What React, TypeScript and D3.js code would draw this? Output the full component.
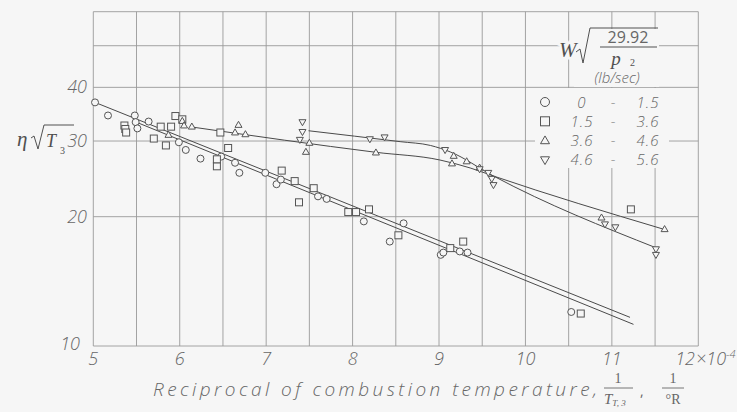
import React from "react";
import * as d3 from "d3";

// Efficiency parameter vs reciprocal combustion temperature, grouped by corrected airflow
const circlePts: [number, number][] = [
  [5.02, 36.9], [5.17, 34.4], [5.48, 34.4], [5.49, 33.2], [5.51, 32.1], [5.64, 33.3],
  [5.99, 29.8], [6.07, 28.6], [6.24, 27.3], [6.48, 27.6], [6.64, 26.7], [6.69, 25.3],
  [6.99, 25.3], [7.12, 23.8], [7.17, 24.4], [7.6, 22.3], [7.7, 22.0], [8.13, 19.5],
  [8.43, 17.5], [8.59, 19.3], [9.02, 16.3], [9.05, 16.5], [9.24, 16.6], [9.33, 16.5],
  [10.53, 12.0],
];
const squarePts: [number, number][] = [
  [5.36, 32.6], [5.37, 32.0], [5.38, 31.4], [5.7, 30.4], [5.78, 32.4], [5.84, 29.3],
  [5.9, 32.4], [5.95, 34.3], [6.03, 33.7], [6.43, 26.2], [6.43, 27.2], [6.47, 31.4],
  [6.56, 28.9], [7.18, 25.6], [7.33, 24.2], [7.38, 21.6], [7.55, 23.3], [7.95, 20.5],
  [8.04, 20.5], [8.19, 20.8], [8.53, 18.1], [9.13, 16.9], [9.28, 17.5], [10.64, 11.9],
  [11.22, 20.8],
];
const trianglePts: [number, number][] = [
  [5.87, 31.0], [6.03, 33.4], [6.05, 32.6], [6.14, 32.4], [6.64, 31.4], [6.68, 32.7],
  [6.76, 31.1], [7.46, 28.3], [7.5, 29.7], [8.27, 28.2], [9.15, 26.6], [9.17, 27.7],
  [9.32, 26.9], [9.47, 26.0], [10.88, 19.9], [11.61, 18.7],
];
const invTrianglePts: [number, number][] = [
  [7.39, 30.2], [7.42, 31.5], [7.42, 33.2], [8.2, 30.3], [8.37, 30.6], [9.07, 28.6],
  [9.47, 25.8], [9.57, 25.3], [9.61, 24.5], [9.63, 23.7], [10.92, 19.2], [11.04, 18.9],
  [11.51, 16.8], [11.51, 16.3],
];

// Faired curves through each group
const circleCurve: [number, number][] = [[5.02, 36.9], [11.21, 11.66]];
const squareCurve: [number, number][] = [[5.48, 33.3], [11.25, 11.23]];
const triangleCurve: [number, number][] = [
  [6.16, 32.3], [8.27, 28.24], [9.01, 27.1], [9.36, 25.97], [9.63, 24.87], [11.59, 18.72],
];
const invTriangleCurve: [number, number][] = [
  [7.49, 31.7], [8.55, 29.9], [8.9, 29.3], [9.13, 28.3], [9.63, 24.87], [11.52, 16.9],
];

const xTicks = [5, 6, 7, 8, 9, 10, 11];
const yTicks = [10, 20, 30, 40];
const yGrid = [10, 20, 30, 40, 50, 60];
const legendLow = ["0", "1.5", "3.6", "4.6"];
const legendHigh = ["1.5", "3.6", "4.6", "5.6"];

const BG = "#f6f6f6";
const INK = "#555";
const TXT = "#666";
const SANS = "'Open Sans', 'DejaVu Sans', sans-serif";
const SERIF = "'Liberation Serif', 'DejaVu Serif', serif";

type Kind = "circle" | "square" | "tri" | "inv";

function Marker({ kind, cx, cy, s }: { kind: Kind; cx: number; cy: number; s: number }) {
  const common = { fill: BG, stroke: INK, strokeWidth: 1 };
  if (kind === "circle") return <circle cx={cx} cy={cy} r={s / 2} {...common} />;
  if (kind === "square")
    return <rect x={cx - s / 2} y={cy - s / 2} width={s} height={s} {...common} />;
  const h = s * 0.866;
  if (kind === "tri")
    return (
      <path
        d={`M${cx},${cy - h * 0.6}L${cx + s / 2},${cy + h * 0.4}L${cx - s / 2},${cy + h * 0.4}Z`}
        {...common}
      />
    );
  return (
    <path
      d={`M${cx},${cy + h * 0.6}L${cx + s / 2},${cy - h * 0.4}L${cx - s / 2},${cy - h * 0.4}Z`}
      {...common}
    />
  );
}

export default function App() {
  const x = d3.scaleLinear().domain([5, 12]).range([93.3, 698.3]);
  const y = d3.scaleLog().domain([10, 60]).range([346, 11.7]);

  const straight = d3
    .line<[number, number]>()
    .x((d) => x(d[0]))
    .y((d) => y(d[1]));
  const smooth = d3
    .line<[number, number]>()
    .x((d) => x(d[0]))
    .y((d) => y(d[1]))
    .curve(d3.curveMonotoneX);

  const vGrid = d3.range(5, 12.01, 0.5);

  const groups: { kind: Kind; pts: [number, number][] }[] = [
    { kind: "circle", pts: circlePts },
    { kind: "square", pts: squarePts },
    { kind: "tri", pts: trianglePts },
    { kind: "inv", pts: invTrianglePts },
  ];
  const legendKinds: Kind[] = ["circle", "square", "tri", "inv"];

  return (
    <svg
      width={737}
      height={412}
      style={{ position: "absolute", left: 0, top: 0, background: BG }}
    >
      <rect width={737} height={412} fill={BG} />

      {/* grid */}
      <g stroke="#9a9a9a" strokeWidth={0.9}>
        {vGrid.map((v) => (
          <line key={"v" + v} x1={x(v)} x2={x(v)} y1={y(60)} y2={y(10)} />
        ))}
        {yGrid.map((v) => (
          <line key={"h" + v} x1={x(5)} x2={x(12)} y1={y(v)} y2={y(v)} />
        ))}
      </g>

      {/* fitted curves */}
      <g fill="none" stroke="#4a4a4a" strokeWidth={1}>
        <path d={straight(circleCurve) || ""} />
        <path d={straight(squareCurve) || ""} />
        <path d={smooth(triangleCurve) || ""} />
        <path d={smooth(invTriangleCurve) || ""} />
      </g>

      {/* data points */}
      {groups.map((g) =>
        g.pts.map((p, i) => (
          <Marker key={g.kind + i} kind={g.kind} cx={x(p[0])} cy={y(p[1])} s={7} />
        ))
      )}

      {/* tick labels */}
      <g fontFamily={SANS} fontStyle="italic" fontWeight={300} fontSize={18} fill={TXT}>
        {yTicks.map((v) => (
          <text
            key={"yt" + v}
            x={v === 10 ? 80 : 87}
            y={y(v) + (v === 10 ? 4 : 6)}
            textAnchor="end"
          >
            {String(v)}
          </text>
        ))}
        {xTicks.map((v) => (
          <text key={"xt" + v} x={x(v)} y={365} textAnchor="middle">
            {String(v)}
          </text>
        ))}
        <text x={695} y={365} textAnchor="end">12</text>
        <text x={696} y={365}>
          ×10
          <tspan fontSize={11} dy={-7}>-4</tspan>
        </text>
      </g>

      {/* x axis title */}
      <g fill={TXT}>
        <text
          x={153}
          y={396}
          fontFamily={SANS}
          fontStyle="italic"
          fontWeight={300}
          fontSize={19}
          textLength={444}
          lengthAdjust="spacing"
        >
          Reciprocal of combustion temperature,
        </text>
        <text x={618} y={383} fontFamily={SERIF} fontSize={14} textAnchor="middle">1</text>
        <line x1={604} x2={633} y1={388} y2={388} stroke={TXT} strokeWidth={0.9} />
        <text x={604} y={404} fontFamily={SERIF} fontStyle="italic" fontSize={15}>
          T
          <tspan fontSize={9} dy={2}>T, 3</tspan>
        </text>
        <text x={640} y={396} fontFamily={SANS} fontSize={14}>,</text>
        <text x={673} y={383} fontFamily={SERIF} fontSize={14} textAnchor="middle">1</text>
        <line x1={662} x2={684} y1={388} y2={388} stroke={TXT} strokeWidth={0.9} />
        <text x={673} y={404} fontFamily={SERIF} fontSize={14} textAnchor="middle">°R</text>
      </g>

      {/* y axis title */}
      <g fill="#505050">
        <text x={17} y={146} fontFamily={SERIF} fontStyle="italic" fontSize={21}>η</text>
        <path d="M31,138 L34,136 L38,149 L44,125 L74,125" fill="none" stroke="#505050" strokeWidth={1} />
        <text x={46} y={147} fontFamily={SERIF} fontStyle="italic" fontSize={18}>T</text>
        <text x={60} y={154} fontFamily={SERIF} fontSize={10}>3</text>
      </g>

      {/* legend */}
      <rect x={574} y={29} width={85} height={58} fill={BG} />
      <rect x={535} y={88} width={134} height={80} fill={BG} />
      <g fill="#505050">
        <text
          x={559}
          y={57}
          fontFamily={SERIF}
          fontStyle="italic"
          fontSize={21}
          stroke={BG}
          strokeWidth={5}
          paintOrder="stroke"
        >
          W
        </text>
        <path d="M576,52 L580,49 L583,63 L590,28 L658,28" fill="none" stroke="#505050" strokeWidth={1} />
        <text x={628} y={43} fontFamily={SANS} fontSize={16} textAnchor="middle" fill={TXT}>
          29.92
        </text>
        <line x1={600} x2={657} y1={47} y2={47} stroke="#505050" strokeWidth={1} />
        <text x={616} y={65} fontFamily={SERIF} fontStyle="italic" fontSize={19} textAnchor="middle">
          p
        </text>
        <text x={630} y={66} fontFamily={SERIF} fontSize={10}>2</text>
        <text
          x={617}
          y={83}
          fontFamily={SANS}
          fontStyle="italic"
          fontWeight={300}
          fontSize={15}
          textAnchor="middle"
          fill={TXT}
        >
          (lb/sec)
        </text>
      </g>
      {legendKinds.map((k, i) => {
        const ry = 102 + i * 19.3;
        return (
          <g key={"lg" + k}>
            <Marker kind={k} cx={545} cy={ry} s={9} />
            <g fontFamily={SANS} fontStyle="italic" fontWeight={300} fontSize={15} fill={TXT}>
              <text x={582} y={ry + 5.5} textAnchor="middle" letterSpacing={1}>{legendLow[i]}</text>
              <text x={613} y={ry + 5.5} textAnchor="middle">-</text>
              <text x={648} y={ry + 5.5} textAnchor="middle" letterSpacing={1}>{legendHigh[i]}</text>
            </g>
          </g>
        );
      })}
    </svg>
  );
}
